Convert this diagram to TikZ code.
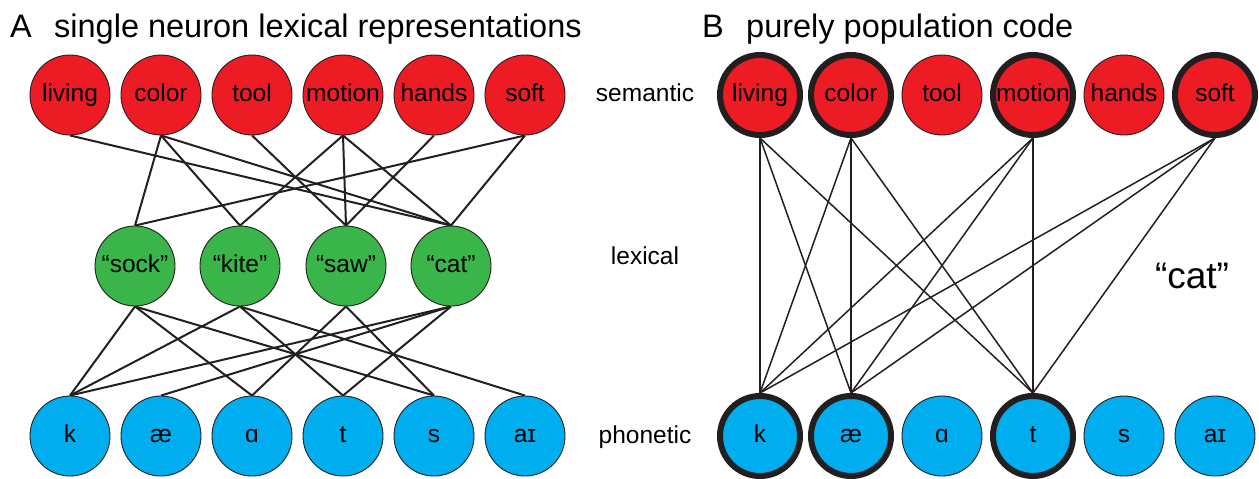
\documentclass[tikz,border=0pt]{standalone}
\usepackage{fontspec}
\setmainfont{Liberation Sans}
\usetikzlibrary{backgrounds}
\definecolor{nred}{HTML}{ED1C24}
\definecolor{ngreen}{HTML}{39B54A}
\definecolor{nblue}{HTML}{00AEEF}
\definecolor{outl}{HTML}{231F20}
\begin{document}
\begin{tikzpicture}[x=1pt,y=-1pt,
  unit/.style={circle, minimum size=80pt, inner sep=0pt, draw=outl, line width=0.9pt,
    font=\fontsize{24.5}{28}\selectfont, text height=17.5pt, text depth=5pt},
  sem/.style={unit, fill=nred},
  lex/.style={unit, fill=ngreen},
  pho/.style={unit, fill=nblue},
  hot/.style={line width=6pt},
  linkA/.style={draw=outl, line width=2pt},
  linkB/.style={draw=outl, line width=1.5pt},
  lbl/.style={font=\fontsize{24.5}{28}\selectfont, anchor=base, inner sep=0pt},
  ttl/.style={font=\fontsize{32.5}{36}\selectfont, anchor=base west, inner sep=0pt}]
\useasboundingbox (0,0) rectangle (1259,479);

% titles
\node[ttl] (tA) at (10,37) {A};
\node[ttl] (tAt) at (54,37) {single neuron lexical representations};
\node[ttl] (tB) at (702,37) {B};
\node[ttl] (tBt) at (746,37) {purely population code};

% layer labels
\node[lbl] (lsem) at (645,101.5) {semantic};
\node[lbl] (llex) at (645,264.5) {lexical};
\node[lbl] (lpho) at (645,443) {phonetic};

% panel A
\node[sem] (s1) at (70,95) {living};
\node[sem] (s2) at (161,95) {color};
\node[sem] (s3) at (252,95) {tool};
\node[sem] (s4) at (343,95) {motion};
\node[sem] (s5) at (434,95) {hands};
\node[sem] (s6) at (525,95) {soft};

\node[lex] (l1) at (135,266) {“sock”};
\node[lex] (l2) at (240,266) {“kite”};
\node[lex] (l3) at (346,266) {“saw”};
\node[lex] (l4) at (451,266) {“cat”};

\node[pho] (p1) at (70,436) {k};
\node[pho] (p2) at (161,436) {æ};
\node[pho] (p3) at (252,436) {ɑ};
\node[pho] (p4) at (343,436) {t};
\node[pho] (p5) at (434,436) {s};
\node[pho] (p6) at (525,436) {aɪ};

% panel B
\node[sem,hot] (r1) at (760,95) {living};
\node[sem,hot] (r2) at (851,95) {color};
\node[sem] (r3) at (942,95) {tool};
\node[sem,hot] (r4) at (1033,95) {motion};
\node[sem] (r5) at (1124,95) {hands};
\node[sem,hot] (r6) at (1215,95) {soft};

\node[pho,hot] (q1) at (760,436) {k};
\node[pho,hot] (q2) at (851,436) {æ};
\node[pho] (q3) at (942,436) {ɑ};
\node[pho,hot] (q4) at (1033,436) {t};
\node[pho] (q5) at (1124,436) {s};
\node[pho] (q6) at (1215,436) {aɪ};

\node[font=\fontsize{37}{42}\selectfont, anchor=base, inner sep=0pt] (catlbl) at (1192,288) {“cat”};

\begin{scope}[on background layer]
  % semantic -> lexical
  \draw[linkA] (s1.south) -- (l4.north);
  \draw[linkA] (s2.south) -- (l1.north);
  \draw[linkA] (s2.south) -- (l2.north);
  \draw[linkA] (s2.south) -- (l4.north);
  \draw[linkA] (s3.south) -- (l3.north);
  \draw[linkA] (s4.south) -- (l2.north);
  \draw[linkA] (s4.south) -- (l3.north);
  \draw[linkA] (s4.south) -- (l4.north);
  \draw[linkA] (s5.south) -- (l3.north);
  \draw[linkA] (s6.south) -- (l1.north);
  \draw[linkA] (s6.south) -- (l4.north);
  % lexical -> phonetic
  \draw[linkA] (l1.south) -- (p1.north);
  \draw[linkA] (l1.south) -- (p3.north);
  \draw[linkA] (l1.south) -- (p5.north);
  \draw[linkA] (l2.south) -- (p1.north);
  \draw[linkA] (l2.south) -- (p4.north);
  \draw[linkA] (l2.south) -- (p6.north);
  \draw[linkA] (l3.south) -- (p3.north);
  \draw[linkA] (l3.south) -- (p5.north);
  \draw[linkA] (l4.south) -- (p1.north);
  \draw[linkA] (l4.south) -- (p2.north);
  \draw[linkA] (l4.south) -- (p4.north);
  % panel B
  \foreach \a in {r1,r2,r4,r6} {
    \foreach \b in {q1,q2,q4} {
      \draw[linkB] (\a.south) -- (\b.north);
    }
  }
\end{scope}
\end{tikzpicture}
\end{document}
